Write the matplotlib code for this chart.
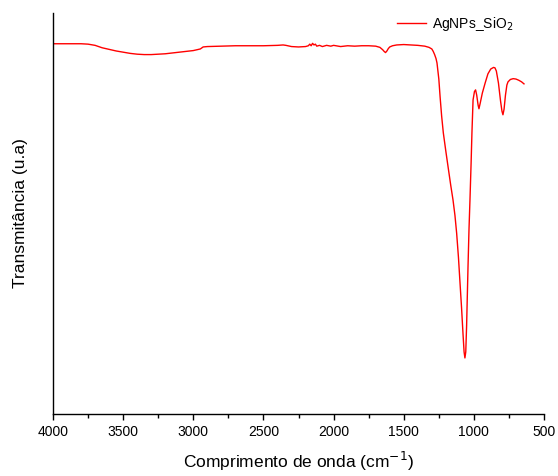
import numpy as np
import matplotlib.pyplot as plt
from matplotlib.ticker import MultipleLocator

plt.rcParams['font.family'] = ['Liberation Sans', 'DejaVu Sans']

# FTIR spectrum of AgNPs_SiO2 (wavenumber in cm^-1, transmittance in a.u.)
wavenumber = [4000, 3900, 3800, 3750, 3700, 3650, 3600, 3550, 3500, 3450,
              3400, 3350, 3300, 3250, 3200, 3100, 3000, 2950, 2930, 2900,
              2800, 2700, 2600, 2500, 2400, 2360, 2340, 2300, 2250, 2200,
              2180, 2170, 2160, 2150, 2140, 2130, 2120, 2100, 2080, 2050,
              2020, 2000, 1950, 1900, 1850, 1800, 1750, 1700, 1670, 1650,
              1640, 1630, 1620, 1610, 1600, 1580, 1550, 1500, 1450, 1400,
              1350, 1320, 1300, 1290, 1280, 1270, 1263, 1250, 1241, 1230,
              1218, 1200, 1184, 1165, 1149, 1135, 1123, 1110, 1099, 1088,
              1078, 1070, 1064, 1058, 1052, 1042, 1035, 1028, 1020, 1014,
              1006, 996, 988, 980, 970, 964, 955, 940, 920, 900,
              880, 860, 850, 840, 825, 810, 800, 793, 785, 775,
              765, 757, 740, 720, 700, 680, 660, 643]
transmittance = [92.3, 92.3, 92.3, 92.2, 91.9, 91.3, 90.9, 90.5, 90.2, 89.9,
                 89.7, 89.6, 89.6, 89.7, 89.8, 90.2, 90.6, 91.0, 91.5, 91.6,
                 91.7, 91.8, 91.8, 91.8, 91.9, 92.0, 91.9, 91.6, 91.5, 91.6,
                 91.8, 92.2, 91.8, 92.4, 92.0, 92.2, 91.7, 91.9, 91.6, 91.9,
                 91.7, 91.9, 91.6, 91.8, 91.7, 91.8, 91.8, 91.7, 91.4, 90.8,
                 90.4, 90.1, 90.5, 91.1, 91.5, 91.8, 92.0, 92.1, 92.0, 91.9,
                 91.7, 91.4, 91.0, 90.4, 89.6, 88.6, 87.5, 83.5, 79.1, 74.3,
                 70.1, 65.5, 61.6, 57.0, 53.4, 49.5, 45.1, 39.0, 32.7, 26.5,
                 20.2, 15.5, 14.0, 15.5, 22.0, 36.7, 46.0, 53.4, 62.5, 70.1,
                 78.3, 80.4, 80.8, 79.5, 77.0, 76.1, 77.5, 80.0, 82.5, 84.8,
                 86.0, 86.4, 86.3, 85.5, 82.5, 78.0, 75.5, 74.6, 76.0, 79.5,
                 82.0, 82.8, 83.4, 83.6, 83.5, 83.2, 82.8, 82.3]

fig = plt.figure(figsize=(5.58, 4.76), dpi=100)
ax = fig.add_axes([0.095, 0.130, 0.880, 0.843])

ax.plot(wavenumber, transmittance, color='red', lw=1.0, label='AgNPs_SiO$_2$')

ax.set_xlim(4000, 500)
ax.set_ylim(0, 100)
ax.xaxis.set_major_locator(MultipleLocator(500))
ax.xaxis.set_minor_locator(MultipleLocator(250))
ax.tick_params(axis='x', which='major', direction='out', length=4, width=1,
               labelsize=10, pad=4)
ax.tick_params(axis='x', which='minor', direction='out', length=3, width=1)
ax.set_yticks([])

for side in ('top', 'right'):
    ax.spines[side].set_visible(False)
for side in ('left', 'bottom'):
    ax.spines[side].set_linewidth(1.0)

ax.set_xlabel('Comprimento de onda (cm$^{-1}$)', fontsize=12.5, labelpad=8)
ax.set_ylabel('Transmitância (u.a)', fontsize=12.5, labelpad=18)

ax.legend(loc='upper left', frameon=False, fontsize=10, handlelength=2.1,
          handletextpad=0.4, bbox_to_anchor=(0.675, 1.025))

fig.savefig('out.png', dpi=100)
